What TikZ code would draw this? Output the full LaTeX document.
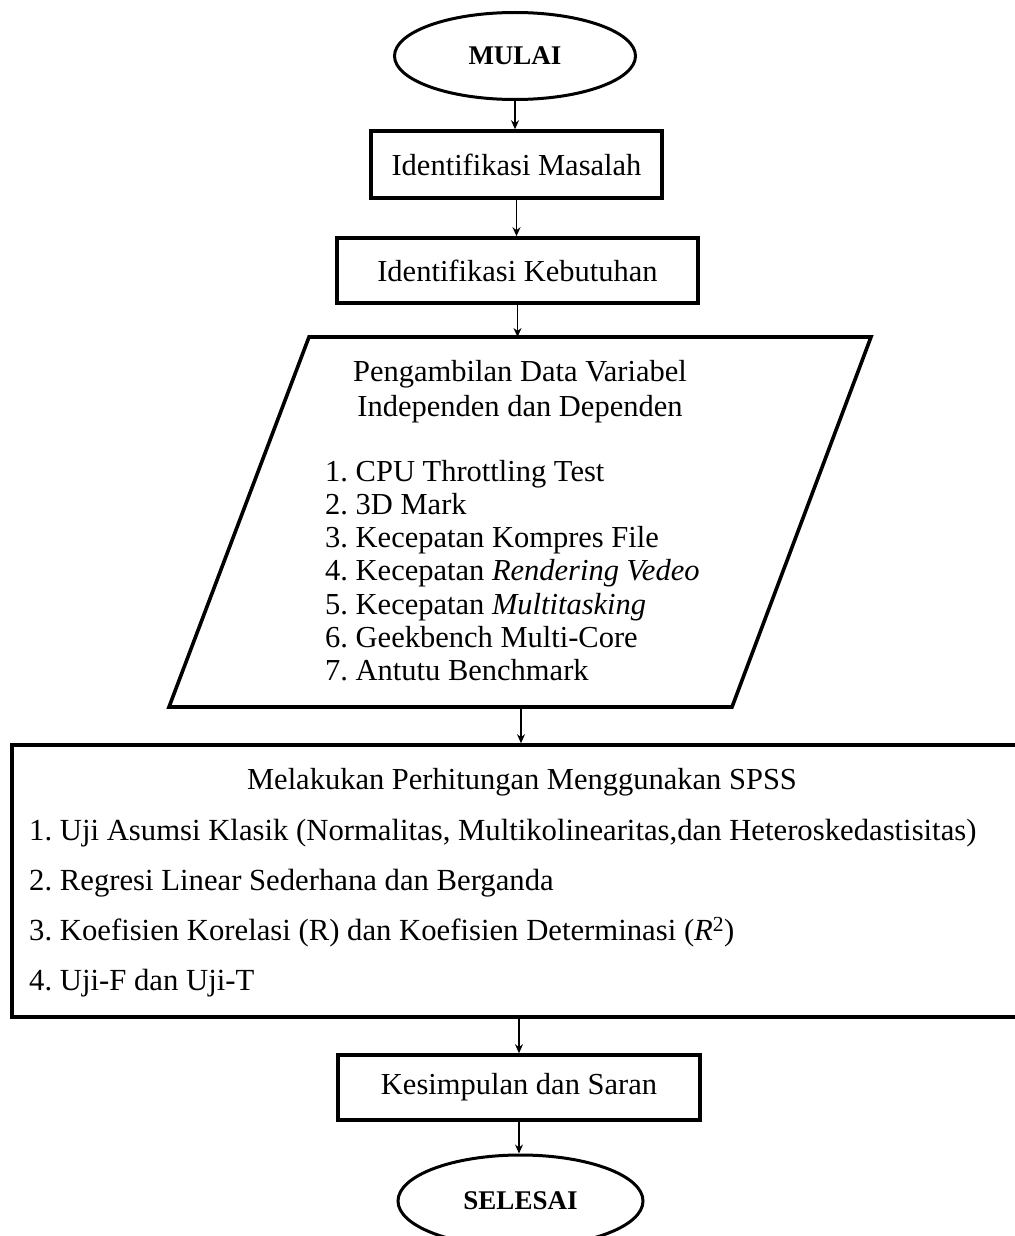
\documentclass[tikz,border=0pt]{standalone}
\usepackage{fontspec}
\setmainfont{Liberation Serif}
\usepackage{tikz}
\usetikzlibrary{shapes.geometric,arrows.meta,calc}
\frenchspacing

\begin{document}
\begin{tikzpicture}[x=1pt,y=-1pt,
    txt/.style={font=\fontsize{30.5}{35}\selectfont},
    terminal/.style={ellipse,draw,line width=3pt,inner sep=0pt,
      font=\fontsize{27}{30}\selectfont\bfseries},
    procbox/.style={rectangle,draw,line width=3.6pt,inner sep=0pt,txt},
    flow/.style={line width=1.4pt,-{Stealth[length=9pt,width=8pt]}}]
  \useasboundingbox (0,0) rectangle (1014,1236);
  % start and first two steps
  \node[terminal,minimum width=241,minimum height=87] (mulai) at (515,56) {MULAI};
  \node[procbox,minimum width=291,minimum height=67] (masalah) at (516.5,164.5) {Identifikasi Masalah};
  \node[procbox,minimum width=361,minimum height=65] (kebutuhan) at (517.5,270.5) {Identifikasi Kebutuhan};
  % data collection (parallelogram drawn by hand)
  \coordinate (datatop) at (520,337);
  \coordinate (databot) at (521,707);
  \draw[line width=3.6pt,line join=miter] (309,337) -- (871,337) -- (732,707) -- (169,707) -- cycle;
  \node[txt,align=center] (datatitle) at (520,392) {Pengambilan Data Variabel\\Independen dan Dependen};
  \node[txt,align=left,anchor=north west,inner sep=0pt,
    font=\fontsize{30.5}{33.2}\selectfont] (datalist) at (325,460)
    {1. CPU Throttling Test\\
     2. 3D Mark\\
     3. Kecepatan Kompres File\\
     4. Kecepatan \textit{Rendering Vedeo}\\
     5. Kecepatan \textit{Multitasking}\\
     6. Geekbench Multi-Core\\
     7. Antutu Benchmark};
  % SPSS step
  \node[procbox,minimum width=1013,minimum height=272] (spss) at (518.5,881) {};
  \node[txt] (spsstitle) at (522,782) {Melakukan Perhitungan Menggunakan SPSS};
  \node[txt,align=left,anchor=north west,inner sep=0pt,
    font=\fontsize{30.7}{50}\selectfont] (spsslist) at (29,819)
    {1. Uji Asumsi Klasik (Normalitas, Multikolinearitas,dan Heteroskedastisitas)\\
     2. Regresi Linear Sederhana dan Berganda\\
     3. Koefisien Korelasi (R) dan Koefisien Determinasi (\textit{R}\textsuperscript{2})\\
     4. Uji-F dan Uji-T};
  % end
  \node[procbox,minimum width=362,minimum height=65] (saran) at (519,1087.5) {Kesimpulan dan Saran};
  \node[terminal,minimum width=245,minimum height=92] (selesai) at (520.5,1201) {SELESAI};

  \draw[flow] (mulai.south) -- (mulai.south |- masalah.north);
  \draw[flow] (masalah.south) -- (masalah.south |- kebutuhan.north);
  \draw[flow] (kebutuhan.south) -- (kebutuhan.south |- datatop);
  \draw[flow] (databot) -- (databot |- spss.north);
  \draw[flow] (spss.south -| saran.north) -- (saran.north);
  \draw[flow] (saran.south) -- (saran.south |- selesai.north);
\end{tikzpicture}
\end{document}
